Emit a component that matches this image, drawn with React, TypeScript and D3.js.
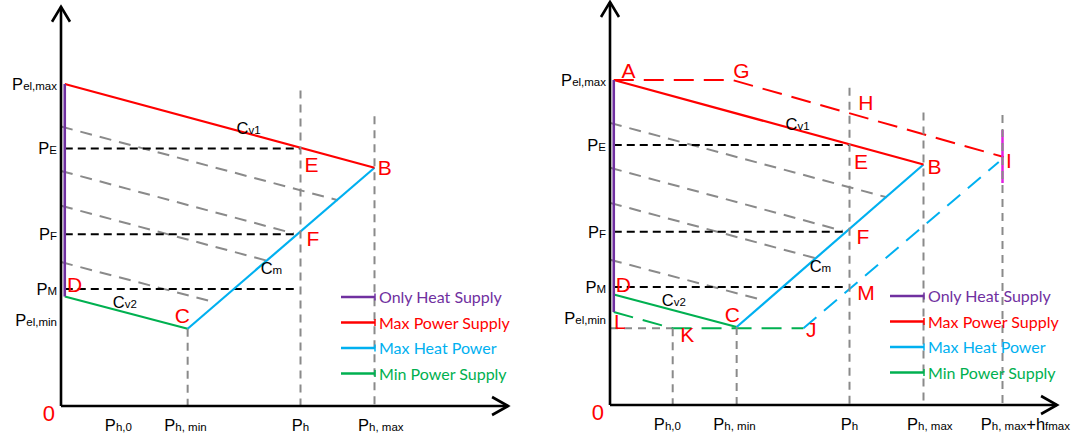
import React from "react";
import * as d3 from "d3";

const W = 1074;
const H = 441;

const PURPLE = "#7030a0";
const RED = "#ff0000";
const BLUE = "#00b0f0";
const GREEN = "#00b050";
const GRAY = "#8a8a8a";
const MAGENTA = "#e020e0";

// units: heat axis P_h,max = 100, power axis P_el,max = 100
const axisEnd = { x: 142.6, y: 124 };

// heat axis labels, [text, isSmall]
const heatLabels = [
  { x: 18.3, parts: [["P", 0], ["h,0", 1]] },
  { x: 39.7, parts: [["P", 0], ["h, min", 1]] },
  { x: 76.4, parts: [["P", 0], ["h", 1]] },
  { x: 102, parts: [["P", 0], ["h, max", 1]] },
];
const heatLabelExtra = { x: 132.5, parts: [["P", 0], ["h, max", 1], ["+h", 0], ["fmax", 1]] };

// power axis labels
const powerLabels = [
  { y: 100, parts: [["P", 0], ["el,max", 1]] },
  { y: 80, parts: [["P", 0], ["E", 1]] },
  { y: 53.3, parts: [["P", 0], ["F", 1]] },
  { y: 36.3, parts: [["P", 0], ["M", 1]] },
  { y: 26.7, parts: [["P", 0], ["el,min", 1]] },
];

// operating region boundaries
const onlyHeatLeft = [[1.2, 100], [1.2, 34]];
const onlyHeatRight = [[1.2, 100], [1.2, 28.6]];
const maxPower = [[1.2, 100], [100, 74]];
const maxHeat = [[40.4, 24], [100, 74]];
const minPower = [[1.2, 34], [40.4, 24]];

// iso-heat guide lines (gray, parallel to Cv1)
const isoLines = [
  [[0, 86.8], [88.3, 63.9]],
  [[0, 73], [74.2, 53.6]],
  [[0, 62.2], [65.4, 45.2]],
  [[0, 44.7], [48.7, 32.3]],
];

// black level guides P_E, P_F, P_M : [y, xEnd]
const levelGuides = [
  [80, 76.4],
  [53.3, 75.2],
  [36.3, 74.6],
];

// vertical gray guides : [x, yTop]
const verticalsLeft = [
  [40.4, 24],
  [76.4, 98],
  [100, 90],
];
const verticalsRight = [
  [20, 23.6],
  [40.4, 24],
  [76.4, 97.6],
  [100, 90],
  [125.2, 89.2],
];

// extended region (right panel)
const extMaxPower = [[1.2, 100], [39, 100], [125.6, 76.3]];
const extMaxHeat = [[61.7, 23.6], [124, 74.8]];
const extMinPower = [[1.2, 28.6], [20, 23.6], [61.7, 23.6]];
const pelMinGuide = [[0, 23.6], [20, 23.6]];
const extOnlyHeat = [[125.2, 84.6], [125.2, 68.3]];

// point letters
const pointsLeft = [
  ["E", 77.7, 72.7],
  ["B", 101, 71.7],
  ["F", 78.3, 49.7],
  ["D", 1.9, 35.4],
  ["C", 36.3, 25.8],
];
const pointsRight = [
  ["A", 3.7, 100.6],
  ["G", 39.3, 100.6],
  ["H", 79.2, 90.8],
  ["I", 126.3, 72.9],
  ["E", 77.8, 72.6],
  ["B", 101.3, 71.1],
  ["F", 78.6, 49.5],
  ["M", 78.9, 32.3],
  ["D", 1.8, 34.8],
  ["C", 36.6, 25.5],
  ["L", 1.3, 23.4],
  ["K", 22.4, 19.4],
  ["J", 62.5, 20.9],
];

// curve names
const curveLabels = [
  { x: 56, y: 84.5, sub: "v1" },
  { x: 63.7, y: 41, sub: "m" },
  { x: 16.5, y: 30.4, sub: "v2" },
];

const legendItems = [
  { label: "Only Heat Supply", color: PURPLE },
  { label: "Max Power Supply", color: RED },
  { label: "Max Heat Power", color: BLUE },
  { label: "Min Power Supply", color: GREEN },
];

const FONT = "'Liberation Sans', Arial, sans-serif";

function Mixed({ parts, ...rest }: any) {
  return (
    <text fontFamily={FONT} fill="#000" {...rest}>
      {parts.map((p: any, i: number) => (
        <tspan key={i} fontSize={p[1] ? 11.5 : 16.5}>
          {p[0]}
        </tspan>
      ))}
    </text>
  );
}

function Panel({ ox, oy, yh, right }: any) {
  const x = d3.scaleLinear().domain([0, 100]).range([0, 313.5]);
  const y = d3.scaleLinear().domain([0, 100]).range([0, -yh]);
  const line = d3
    .line<number[]>()
    .x((d) => x(d[0]))
    .y((d) => y(d[1]));

  const verticals = right ? verticalsRight : verticalsLeft;
  const points = right ? pointsRight : pointsLeft;
  const xTip = x(axisEnd.x);
  const yTip = y(axisEnd.y);

  return (
    <g transform={`translate(${ox},${oy})`}>
      {isoLines.map((l, i) => (
        <path key={i} d={line(l as any)!} stroke={GRAY} strokeWidth={2} strokeDasharray="12,8" fill="none" />
      ))}
      {levelGuides.map((g, i) => (
        <path
          key={i}
          d={line([[1.2, g[0]], [g[1], g[0]]])!}
          stroke="#000"
          strokeWidth={2}
          strokeDasharray="8,5"
          fill="none"
        />
      ))}
      {right && (
        <g fill="none" strokeWidth={2}>
          <path d={line(pelMinGuide as any)!} stroke={GRAY} strokeDasharray="8,6" />
          <path d={line(extMinPower as any)!} stroke={GREEN} strokeDasharray="20,10" />
          <path d={line(extMaxHeat as any)!} stroke={BLUE} strokeDasharray="17,10" />
          <path d={line(extMaxPower as any)!} stroke={RED} strokeDasharray="20,10" />
          <path d={line(extOnlyHeat as any)!} stroke={MAGENTA} strokeWidth={2.5} />
        </g>
      )}
      <g fill="none" strokeWidth={2.2}>
        <path d={line(minPower as any)!} stroke={GREEN} />
        <path d={line(maxHeat as any)!} stroke={BLUE} />
        <path d={line(maxPower as any)!} stroke={RED} />
        <path d={line((right ? onlyHeatRight : onlyHeatLeft) as any)!} stroke={PURPLE} strokeWidth={2.6} />
      </g>
      {verticals.map((v, i) => (
        <path
          key={i}
          d={line([[v[0], v[1]], [v[0], 0]])!}
          stroke={GRAY}
          strokeWidth={2}
          strokeDasharray="8,6"
          fill="none"
        />
      ))}

      {/* axes */}
      <g stroke="#000" strokeWidth={2.6} fill="none">
        <path d={`M0,0V${yTip}`} />
        <path d={`M0,0H${xTip}`} />
        <path d={`M-9,${yTip + 15}L0,${yTip}L9,${yTip + 15}`} />
        <path d={`M${xTip - 16},-9L${xTip},0L${xTip - 16},9`} />
      </g>
      <text x={-6} y={15} textAnchor="end" fontFamily={FONT} fontSize={22} fill={RED}>
        0
      </text>

      {powerLabels.map((l, i) => (
        <Mixed key={i} parts={l.parts} x={-4} y={y(l.y) + 6} textAnchor="end" />
      ))}
      {heatLabels.map((l, i) => (
        <Mixed key={i} parts={l.parts} x={x(l.x)} y={25} textAnchor="middle" />
      ))}
      {right && <Mixed parts={heatLabelExtra.parts} x={x(heatLabelExtra.x)} y={25} textAnchor="middle" />}

      {curveLabels.map((c, i) => (
        <Mixed key={i} parts={[["C", 0], [c.sub, 1]]} x={x(c.x)} y={y(c.y)} />
      ))}
      {points.map((p, i) => (
        <text key={i} x={x(p[1] as number)} y={y(p[2] as number)} fontFamily={FONT} fontSize={21} fill={RED}>
          {p[0]}
        </text>
      ))}

      {/* legend */}
      {legendItems.map((item, i) => {
        const ly = -109 + i * 25.5;
        return (
          <g key={item.label}>
            <path d={`M280,${ly}H314`} stroke={item.color} strokeWidth={2.6} />
            <path d={`M314,${ly - 3.5}V${ly + 3.5}`} stroke={item.color} strokeWidth={1.5} />
            <text x={318} y={ly + 6} fontFamily="Lato, 'Open Sans', sans-serif" fontSize={16} fill={item.color}>
              {item.label}
            </text>
          </g>
        );
      })}
    </g>
  );
}

export default function App() {
  return (
    <svg width={W} height={H} style={{ position: "absolute", left: 0, top: 0, background: "#fff" }}>
      <Panel ox={61} oy={406} yh={322} right={false} />
      <Panel ox={610} oy={405} yh={325} right={true} />
    </svg>
  );
}
